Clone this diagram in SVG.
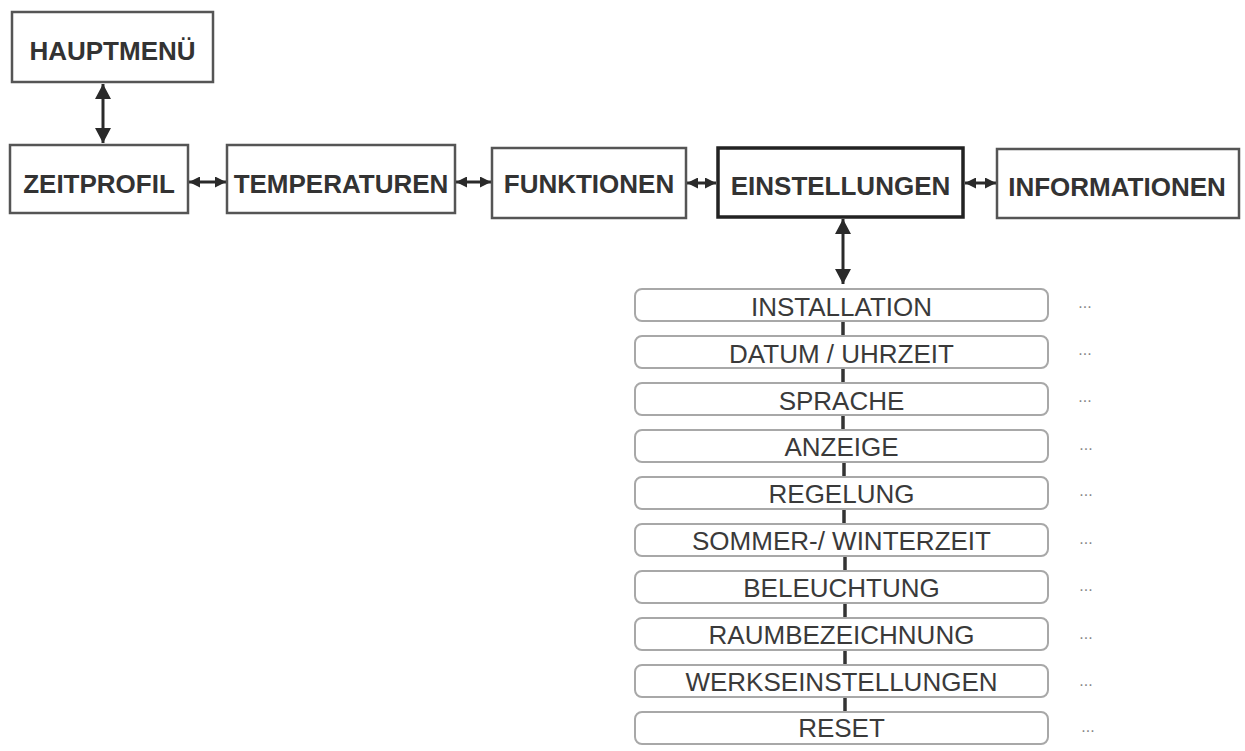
<svg xmlns="http://www.w3.org/2000/svg" width="1245" height="751" viewBox="0 0 1245 751">
<style>
.bg{fill:#ffffff}
.main rect{fill:#fff;stroke:#555;stroke-width:2.5}
.main text{font-family:"Liberation Sans",Arial,sans-serif;font-weight:bold;font-size:26px;fill:#333;text-anchor:middle}
.main.active rect{stroke:#222;stroke-width:3.5}
.sub rect{fill:#fff;stroke:#a8a8a8;stroke-width:2}
.sub text{font-family:"Liberation Sans",Arial,sans-serif;font-size:26px;fill:#3a3a3a;text-anchor:middle}
.sub text.dots{font-size:16px;fill:#888}
.conn line{stroke:#2a2a2a;stroke-width:3;fill:none}
.conn .h{marker-start:url(#ah);marker-end:url(#ah)}
.conn .v{marker-start:url(#av);marker-end:url(#av)}
.conn .s{stroke:#333;stroke-width:3.5}
</style>
<defs>
<marker id="ah" viewBox="0 0 10 10" refX="10" refY="5" markerWidth="11" markerHeight="11" markerUnits="userSpaceOnUse" orient="auto-start-reverse"><path d="M0,0 L10,5 L0,10 z" fill="#2a2a2a"/></marker>
<marker id="av" viewBox="0 0 15 16" refX="15" refY="8" markerWidth="15" markerHeight="16" markerUnits="userSpaceOnUse" orient="auto-start-reverse"><path d="M0,0 L15,8 L0,16 z" fill="#2a2a2a"/></marker>
</defs>
<rect class="bg" x="0" y="0" width="1245" height="751"/>

<g id="connectors" class="conn">
<line class="v" x1="103" y1="84" x2="103" y2="143"/>
<line class="h" x1="189" y1="182" x2="226" y2="182"/>
<line class="h" x1="456" y1="182" x2="491" y2="182"/>
<line class="h" x1="687" y1="183" x2="716" y2="183"/>
<line class="h" x1="965" y1="183" x2="996" y2="183"/>
<line class="v" x1="843" y1="219" x2="843" y2="284"/>
<line class="s" x1="843" y1="321" x2="843" y2="336"/>
<line class="s" x1="843" y1="368" x2="843" y2="383"/>
<line class="s" x1="843" y1="415" x2="843" y2="430"/>
<line class="s" x1="844" y1="462" x2="844" y2="477"/>
<line class="s" x1="844" y1="509" x2="844" y2="524"/>
<line class="s" x1="845" y1="556" x2="845" y2="571"/>
<line class="s" x1="845" y1="603" x2="845" y2="618"/>
<line class="s" x1="845" y1="650" x2="845" y2="665"/>
<line class="s" x1="845" y1="697" x2="845" y2="712"/>
</g>

<g id="hauptmenue" class="main"><rect x="12" y="12" width="201" height="70"/><text x="112.5" y="60">HAUPTMENÜ</text></g>
<g id="zeitprofil" class="main"><rect x="10" y="145" width="178" height="68"/><text x="99" y="193">ZEITPROFIL</text></g>
<g id="temperaturen" class="main"><rect x="227" y="145" width="228" height="68"/><text x="341" y="193">TEMPERATUREN</text></g>
<g id="funktionen" class="main"><rect x="492" y="148" width="194" height="70"/><text x="589" y="193">FUNKTIONEN</text></g>
<g id="einstellungen" class="main active"><rect x="718" y="148" width="245" height="69"/><text x="840.5" y="195">EINSTELLUNGEN</text></g>
<g id="informationen" class="main"><rect x="997" y="149" width="242" height="69"/><text x="1117" y="196">INFORMATIONEN</text></g>

<g id="installation" class="sub"><rect x="635" y="289" width="413" height="32" rx="7"/><text x="841.5" y="316">INSTALLATION</text><text class="dots" x="1085" y="308">...</text></g>
<g id="datum" class="sub"><rect x="635" y="336" width="413" height="32" rx="7"/><text x="841.5" y="363">DATUM / UHRZEIT</text><text class="dots" x="1085" y="355">...</text></g>
<g id="sprache" class="sub"><rect x="635" y="383" width="413" height="32" rx="7"/><text x="841.5" y="410">SPRACHE</text><text class="dots" x="1085" y="402">...</text></g>
<g id="anzeige" class="sub"><rect x="635" y="430" width="413" height="32" rx="7"/><text x="841.5" y="456">ANZEIGE</text><text class="dots" x="1086" y="450">...</text></g>
<g id="regelung" class="sub"><rect x="635" y="477" width="413" height="32" rx="7"/><text x="841.5" y="503">REGELUNG</text><text class="dots" x="1086" y="496">...</text></g>
<g id="sommerwinterzeit" class="sub"><rect x="635" y="524" width="413" height="32" rx="7"/><text x="841.5" y="550">SOMMER-/ WINTERZEIT</text><text class="dots" x="1086" y="544">...</text></g>
<g id="beleuchtung" class="sub"><rect x="635" y="571" width="413" height="32" rx="7"/><text x="841.5" y="597">BELEUCHTUNG</text><text class="dots" x="1086" y="591">...</text></g>
<g id="raumbezeichnung" class="sub"><rect x="635" y="618" width="413" height="32" rx="7"/><text x="841.5" y="644">RAUMBEZEICHNUNG</text><text class="dots" x="1086" y="639">...</text></g>
<g id="werkseinstellungen" class="sub"><rect x="635" y="665" width="413" height="32" rx="7"/><text x="841.5" y="691">WERKSEINSTELLUNGEN</text><text class="dots" x="1086" y="686">...</text></g>
<g id="reset" class="sub"><rect x="635" y="712" width="413" height="32" rx="7"/><text x="841.5" y="737">RESET</text><text class="dots" x="1088" y="732">...</text></g>
</svg>
